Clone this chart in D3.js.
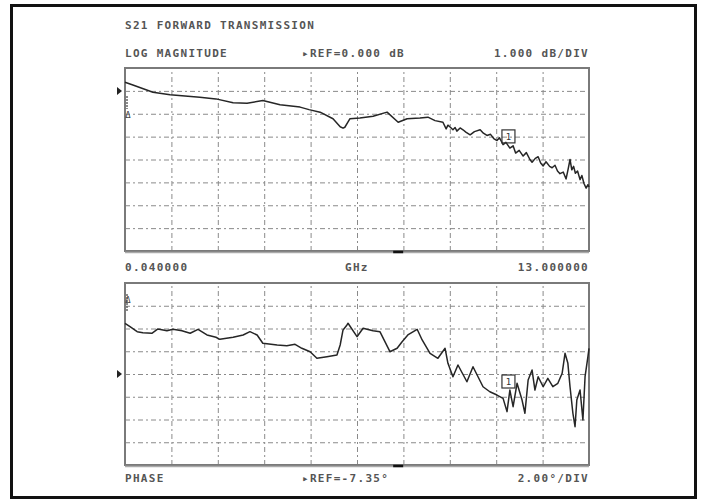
<!DOCTYPE html>
<html lang="en">
<head>
    <meta charset="UTF-8">
    <title>S21 Forward Transmission</title>
    <script src="https://d3js.org/d3.v7.min.js"></script>
    <style>
        body { margin: 0; background: #fff; }
        .lbl {
            font-family: "DejaVu Sans Mono", monospace;
            font-size: 11px;
            font-weight: bold;
            letter-spacing: 1.3px;
            fill: #555;
        }
    </style>
</head>
<body>
<svg width="701" height="500"></svg>
<script>
    // frequency sweep (GHz)
    const fStart = 0.04, fStop = 13.0;

    // log magnitude trace: frequency (GHz) and S21 (dB)
    const magFreq = [0.04, 0.26, 0.82, 1.30, 2.13, 2.58, 3.06, 3.45, 3.89, 4.37, 4.93, 5.18, 5.49, 5.85,
        6.05, 6.13, 6.18, 6.27, 6.32, 6.60, 6.97, 7.36, 7.67, 7.92, 8.28, 8.50, 8.70, 8.92,
        9.01, 9.06, 9.12, 9.20, 9.26, 9.31, 9.40, 9.48, 9.56, 9.68, 9.80, 9.96, 10.05, 10.15, 10.25,
        10.35, 10.43, 10.50, 10.60, 10.68, 10.79, 10.88, 10.95, 11.05, 11.16, 11.25, 11.35, 11.41,
        11.50, 11.58, 11.65, 11.72, 11.80, 11.90, 11.97, 12.05, 12.12, 12.19, 12.28, 12.36, 12.42,
        12.47, 12.52, 12.57, 12.62, 12.68, 12.75, 12.80, 12.86, 12.92, 12.97, 13.00];
    const magDb = [0.38, 0.26, -0.06, -0.17, -0.28, -0.35, -0.52, -0.54, -0.42, -0.61, -0.71, -0.82, -0.93, -1.22,
        -1.57, -1.63, -1.59, -1.35, -1.22, -1.19, -1.11, -0.93, -1.37, -1.22, -1.19, -1.15, -1.30, -1.37,
        -1.66, -1.50, -1.58, -1.70, -1.60, -1.76, -1.62, -1.70, -1.80, -1.92, -1.78, -1.70, -1.85, -1.95, -1.90,
        -2.10, -2.17, -2.05, -2.35, -2.25, -2.50, -2.40, -2.72, -2.60, -2.85, -2.70, -3.00, -3.12,
        -2.95, -2.88, -3.15, -3.28, -3.10, -3.30, -3.36, -3.25, -3.50, -3.62, -3.55, -3.85, -3.40,
        -3.00, -3.45, -3.30, -3.60, -3.50, -3.88, -3.70, -4.05, -4.25, -4.10, -4.20];

    // phase trace: frequency (GHz) and phase (deg)
    const phFreq = [0.04, 0.18, 0.38, 0.54, 0.79, 0.96, 1.21, 1.38, 1.63, 1.86, 2.08, 2.33, 2.58, 2.69, 3.06,
        3.34, 3.53, 3.73, 3.89, 4.29, 4.56, 4.79, 4.98, 5.21, 5.40, 5.68, 5.96, 6.05, 6.13, 6.24, 6.27,
        6.52, 6.69, 6.97, 7.16, 7.44, 7.64, 7.78, 7.94, 8.20, 8.34, 8.56, 8.78, 8.98, 9.06, 9.20, 9.34,
        9.59, 9.76, 9.90, 10.04, 10.23, 10.43, 10.60, 10.71, 10.79, 10.88, 10.99, 11.13, 11.21, 11.30,
        11.41, 11.49, 11.58, 11.72, 11.85, 11.99, 12.13, 12.25, 12.33, 12.41, 12.47, 12.55, 12.61, 12.66,
        12.75, 12.83, 12.89, 12.97, 13.00];
    const phDeg = [-2.89, -3.19, -3.63, -3.72, -3.77, -3.39, -3.54, -3.42, -3.54, -3.77, -3.42, -3.92, -4.12, -4.30, -4.12,
        -3.92, -3.63, -3.92, -4.65, -4.80, -4.86, -4.74, -5.09, -5.39, -5.97, -5.83, -5.68, -4.80, -3.48, -3.04, -2.89,
        -4.07, -3.33, -3.54, -3.63, -5.39, -5.09, -4.51, -3.92, -3.42, -4.36, -5.53, -5.97, -5.09, -6.41, -7.59, -6.56,
        -8.03, -6.71, -7.59, -8.47, -8.91, -9.20, -9.49, -10.66, -8.76, -10.22, -8.17, -9.64, -10.80, -7.88,
        -7.00, -8.76, -7.59, -8.47, -7.73, -8.47, -8.17, -7.29, -5.53, -6.41, -8.47, -10.80, -11.98, -9.64,
        -8.76, -11.39, -7.59, -5.83, -5.09];

    // reference levels and scale per division
    const magRef = 0.0, magPerDiv = 1.0, magRefDiv = 1;   // ref line is 1 div below top
    const phRef = -7.35, phPerDiv = 2.0, phRefDiv = 4;
    // marker box (frequency, level of box centre)
    const markerFreq = 10.75;
    const magMarker = -1.99, phMarker = -8.01;
    const stimFreq = 7.67;

    const svg = d3.select("svg");

    // outer frame
    svg.append("rect")
        .attr("x", 11.5).attr("y", 5.5).attr("width", 684).attr("height", 492)
        .attr("fill", "none").attr("stroke", "#111").attr("stroke-width", 3);

    const left = 125, right = 589;
    const x = d3.scaleLinear().domain([fStart, fStop]).range([left, right]);
    const xTicks = d3.range(11).map(i => fStart + i * (fStop - fStart) / 10);

    function drawPanel(top, bottom, ref, perDiv, refDiv, freqs, vals, markerVal) {
        const hi = ref + refDiv * perDiv;
        const y = d3.scaleLinear().domain([hi - 8 * perDiv, hi]).range([bottom, top]);
        const yTicks = d3.range(9).map(i => hi - i * perDiv);
        const g = svg.append("g");

        // grid
        g.append("g")
            .attr("transform", `translate(0,${bottom})`)
            .call(d3.axisBottom(x).tickValues(xTicks.slice(1, 10)).tickSize(-(bottom - top)).tickFormat(""))
            .call(a => a.select(".domain").remove())
            .call(a => a.selectAll("line").attr("stroke", "#8a8a8a").attr("stroke-dasharray", "5,3,2,3"));
        g.append("g")
            .attr("transform", `translate(${left},0)`)
            .call(d3.axisLeft(y).tickValues(yTicks.slice(1, 8)).tickSize(-(right - left)).tickFormat(""))
            .call(a => a.select(".domain").remove())
            .call(a => a.selectAll("line").attr("stroke", "#8a8a8a").attr("stroke-dasharray", "5,3,2,3"));

        // border
        g.append("rect")
            .attr("x", left).attr("y", top).attr("width", right - left).attr("height", bottom - top)
            .attr("fill", "none").attr("stroke", "#7a7a7a").attr("stroke-width", 2);
        g.append("line")
            .attr("x1", left).attr("x2", right).attr("y1", bottom + 1.5).attr("y2", bottom + 1.5)
            .attr("stroke", "#aaa").attr("stroke-width", 1.5);

        // trace
        const pts = freqs.map((f, i) => [f, vals[i]]);
        g.append("path")
            .datum(pts)
            .attr("fill", "none")
            .attr("stroke", "#262626")
            .attr("stroke-width", 1.5)
            .attr("stroke-linejoin", "round")
            .attr("d", d3.line().x(d => x(d[0])).y(d => y(d[1])));

        // reference pointer at left
        const yr = y(ref);
        g.append("path")
            .attr("d", `M${left - 8},${yr - 4}L${left - 3},${yr}L${left - 8},${yr + 4}Z`)
            .attr("fill", "#222");

        // stimulus mark on bottom edge
        g.append("line")
            .attr("x1", x(stimFreq) - 5).attr("x2", x(stimFreq) + 5)
            .attr("y1", bottom + 1).attr("y2", bottom + 1)
            .attr("stroke", "#111").attr("stroke-width", 2.5);

        // marker box
        const mx = x(markerFreq), my = y(markerVal);
        g.append("rect")
            .attr("x", mx - 6.5).attr("y", my - 6.5).attr("width", 13).attr("height", 13)
            .attr("fill", "none").attr("stroke", "#333").attr("stroke-width", 1.2);
        g.append("text")
            .attr("x", mx).attr("y", my + 3.5)
            .attr("text-anchor", "middle")
            .attr("font-family", "DejaVu Sans Mono, monospace")
            .attr("font-size", 9).attr("fill", "#333")
            .text("1");
        return y;
    }

    drawPanel(68, 251, magRef, magPerDiv, magRefDiv, magFreq, magDb, magMarker);
    drawPanel(283, 465, phRef, phPerDiv, phRefDiv, phFreq, phDeg, phMarker);

    // small reference symbols at the left edge
    [[68, 115], [283, 300]].forEach(([top, yy]) => {
        svg.append("line")
            .attr("x1", 127).attr("x2", 127).attr("y1", top + 28).attr("y2", yy - 6)
            .attr("stroke", "#666").attr("stroke-width", 1.5).attr("stroke-dasharray", "2,1");
        svg.append("text")
            .attr("x", 128).attr("y", yy + 3)
            .attr("text-anchor", "middle")
            .attr("font-family", "DejaVu Sans Mono, monospace")
            .attr("font-size", 9).attr("fill", "#444")
            .text("Δ");
    });

    // labels
    const labels = [
        ["S21 FORWARD TRANSMISSION", 125, 29, "start"],
        ["LOG MAGNITUDE", 125, 57, "start"],
        ["▸REF=0.000 dB", 302, 57, "start"],
        ["1.000 dB/DIV", 589, 57, "end"],
        ["0.040000", 125, 271, "start"],
        ["GHz", 345, 271, "start"],
        ["13.000000", 589, 271, "end"],
        ["PHASE", 125, 482, "start"],
        ["▸REF=-7.35°", 302, 482, "start"],
        ["2.00°/DIV", 589, 482, "end"]
    ];
    svg.selectAll(".lbl")
        .data(labels)
        .enter().append("text")
        .attr("class", "lbl")
        .attr("x", d => d[1])
        .attr("y", d => d[2])
        .attr("text-anchor", d => d[3])
        .text(d => d[0]);
</script>
</body>
</html>
